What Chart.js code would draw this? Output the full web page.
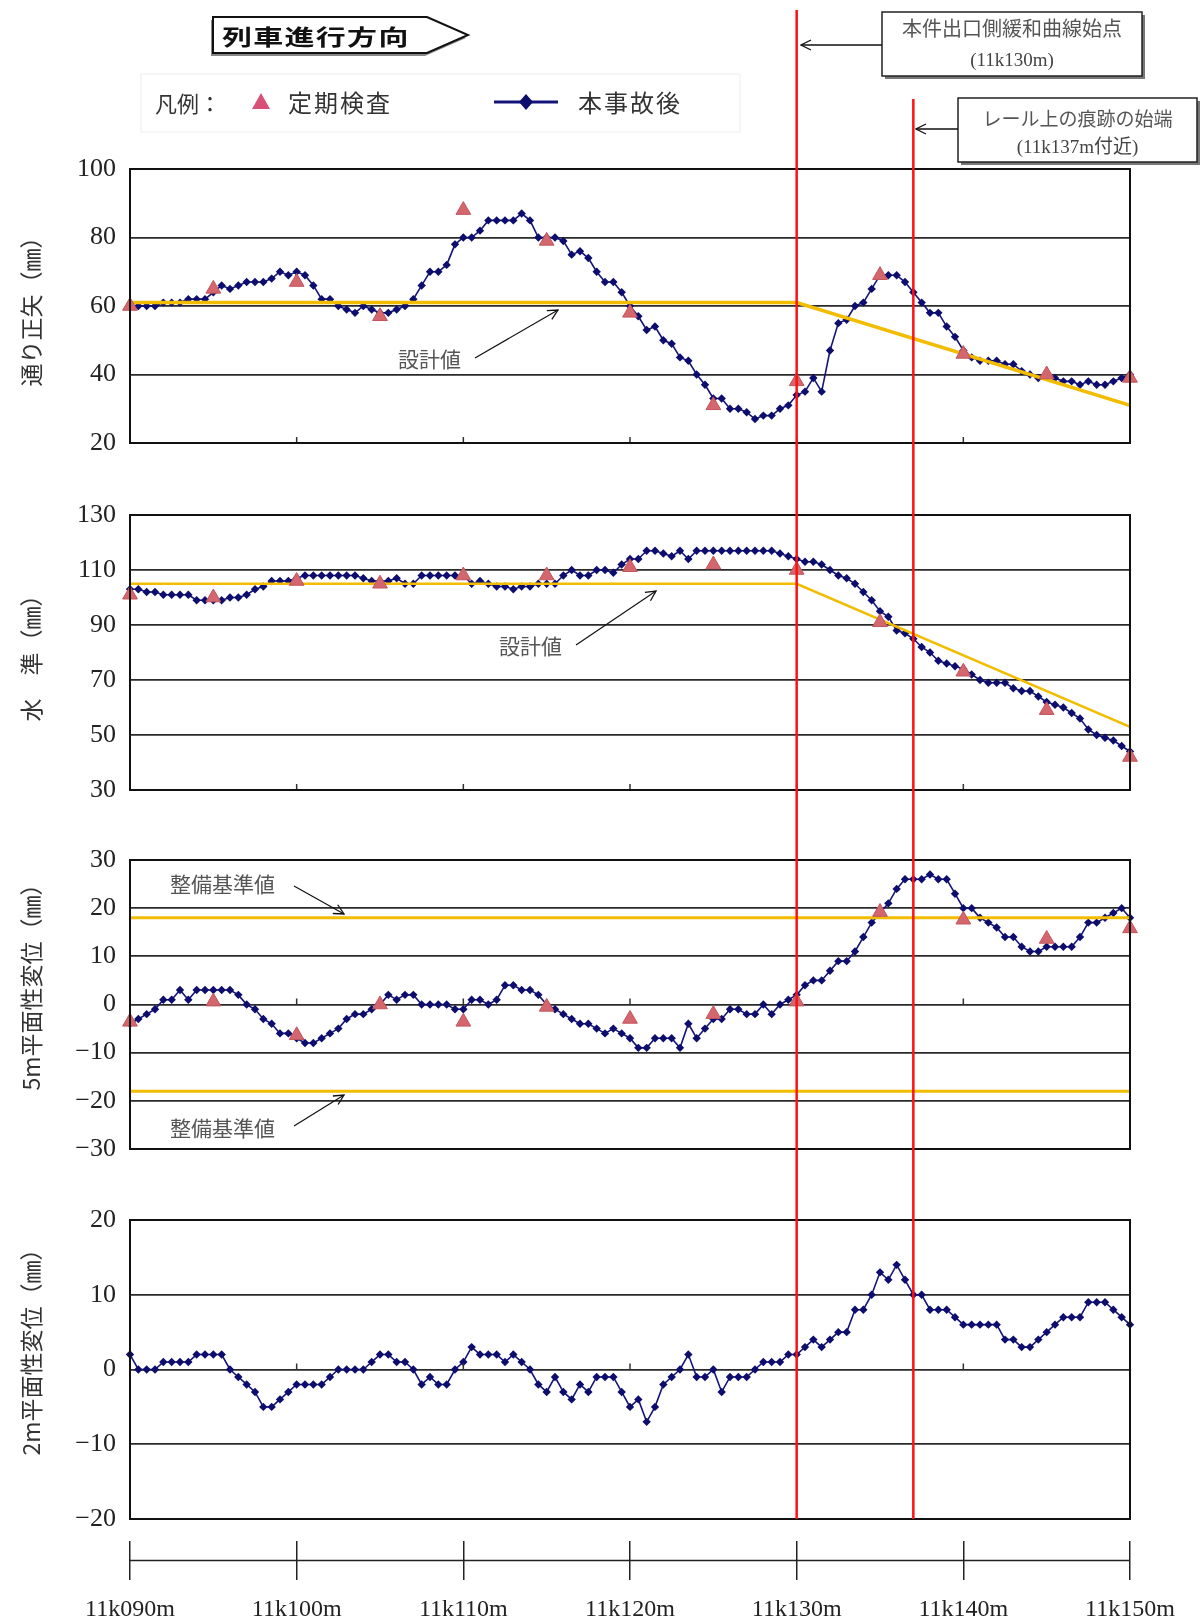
<!DOCTYPE html>
<html>
<head>
<meta charset="utf-8">
<script src="https://cdn.jsdelivr.net/npm/chart.js@4.4.0/dist/chart.umd.min.js"></script>
<style>
body { margin:0; background:#fff; width:1203px; height:1619px; position:relative; overflow:hidden;
       font-family:"Noto Sans CJK JP", sans-serif; }
canvas.cv { position:absolute; left:0; }
.t { position:absolute; white-space:nowrap; color:#444; line-height:1; }
#overlay, #shapes { position:absolute; left:0; top:0; pointer-events:none; }
</style>
</head>
<body>

<canvas class="cv" id="c1" width="1203" height="342" style="top:135px"></canvas>
<canvas class="cv" id="c2" width="1203" height="343" style="top:481px"></canvas>
<canvas class="cv" id="c3" width="1203" height="357" style="top:826px"></canvas>
<canvas class="cv" id="c4" width="1203" height="367" style="top:1186px"></canvas>
<canvas class="cv" id="c5" width="1203" height="90" style="top:1530px"></canvas>
<canvas id="overlay" width="1203" height="1619"></canvas>

<svg id="shapes" width="1203" height="1619">
  <defs>
    <marker id="ahEnd" markerWidth="12" markerHeight="12" refX="11" refY="6" orient="auto" markerUnits="userSpaceOnUse">
      <path d="M1,1 L11,6 L1,11" fill="none" stroke="#111" stroke-width="1.3"/>
    </marker>
  </defs>
  <!-- direction arrow -->
  <polygon points="211,20 425,20 466,38 425,56 211,56" fill="#888"/>
  <polygon points="213,17 427,17 468,35 427,53 213,53" fill="#fff" stroke="#111" stroke-width="2"/>
  <!-- legend frame -->
  <rect x="141" y="74" width="599" height="58" fill="none" stroke="#eee" stroke-width="1"/>
  <polygon points="261,93 252,109 270,109" fill="#d94f78"/>
  <line x1="494" y1="102" x2="558" y2="102" stroke="#14147a" stroke-width="3"/>
  <polygon points="526,94 533,102 526,110 519,102" fill="#0d0d6e"/>
  <!-- note boxes -->
  <rect x="885" y="15" width="260" height="64" fill="#777"/>
  <rect x="882" y="12" width="260" height="64" fill="#fff" stroke="#222" stroke-width="1.5"/>
  <rect x="961" y="101" width="239" height="64" fill="#777"/>
  <rect x="958" y="98" width="239" height="64" fill="#fff" stroke="#222" stroke-width="1.5"/>
  <line x1="882" y1="45" x2="801" y2="45" stroke="#111" stroke-width="1.5" marker-end="url(#ahEnd)"/>
  <line x1="958" y1="129" x2="916" y2="129" stroke="#111" stroke-width="1.5" marker-end="url(#ahEnd)"/>
  <!-- pointer arrows inside the panels -->
  <line x1="475" y1="358" x2="558" y2="310" stroke="#111" stroke-width="1.2" marker-end="url(#ahEnd)"/>
  <line x1="576" y1="645" x2="656" y2="591" stroke="#111" stroke-width="1.2" marker-end="url(#ahEnd)"/>
  <line x1="294" y1="886" x2="344" y2="914" stroke="#111" stroke-width="1.2" marker-end="url(#ahEnd)"/>
  <line x1="294" y1="1126" x2="344" y2="1095" stroke="#111" stroke-width="1.2" marker-end="url(#ahEnd)"/>
</svg>

<div class="t" style="left:222px;top:24px;font-size:22px;font-weight:bold;letter-spacing:1px;color:#111;transform:scaleX(1.36);transform-origin:left center">列車進行方向</div>
<div class="t" style="left:155px;top:91px;font-size:22px;color:#333">凡例：</div>
<div class="t" style="left:288px;top:90px;font-size:24px;letter-spacing:2px;color:#333">定期検査</div>
<div class="t" style="left:578px;top:90px;font-size:24px;letter-spacing:2px;color:#333">本事故後</div>

<div class="t" style="left:882px;top:18px;width:260px;text-align:center;font-size:20px;color:#555">本件出口側緩和曲線始点</div>
<div class="t" style="left:882px;top:50px;width:260px;text-align:center;font-size:19px;color:#444;font-family:'Liberation Serif',serif">(11k130m)</div>
<div class="t" style="left:958px;top:108px;width:239px;text-align:center;font-size:19px;color:#555">レール上の痕跡の始端</div>
<div class="t" style="left:958px;top:137px;width:239px;text-align:center;font-size:19px;color:#444;font-family:'Liberation Serif','Noto Sans CJK JP',serif">(11k137m付近)</div>

<div class="t" style="left:398px;top:348px;font-size:21px;color:#555">設計値</div>
<div class="t" style="left:499px;top:635px;font-size:21px;color:#555">設計値</div>
<div class="t" style="left:170px;top:873px;font-size:21px;color:#555">整備基準値</div>
<div class="t" style="left:170px;top:1117px;font-size:21px;color:#555">整備基準値</div>

<script>
// measurement grid: 11k090m .. 11k150m every 0.5 m
const startM = 11090;
const stepM = 0.5;
const positions = Array.from({length: 121}, (_, i) => startM + i * stepM);

// 本事故後 (after the accident)
const alignAfter = [
  60,60,60,60,61,61,61,62,62,62,
  64,66,65,66,67,67,67,68,70,69,
  70,69,66,62,62,60,59,58,60,59,
  58,58,59,60,62,66,70,70,72,78,
  80,80,82,85,85,85,85,87,85,80,
  80,80,79,75,76,74,70,67,67,64,
  60,57,53,54,50,49,45,44,40,37,
  33,33,30,30,29,27,28,28,30,31,
  34,35,39,35,47,55,56,60,61,65,
  69,69,69,67,64,61,58,58,54,51,
  47,45,44,44,44,43,43,41,40,39,
  40,39,38,38,37,38,37,37,38,39,
  40];
const cantAfter = [
  103,103,102,102,101,101,101,101,99,99,
  99,99,100,100,101,103,104,106,106,106,
  107,108,108,108,108,108,108,108,107,106,
  106,106,107,105,105,108,108,108,108,108,
  108,105,106,105,104,104,103,104,104,105,
  105,105,108,110,108,108,
  110,110,109,112,114,114,117,117,116,115,
  117,114,117,117,117,117,117,117,117,117,
  117,117,116,115,114,113,113,112,110,108,
  107,105,102,99,95,93,88,87,85,82,
  80,77,76,75,74,72,70,69,69,69,
  67,66,66,64,62,61,60,58,56,52,
  50,49,48,46,44];
const twist5After = [
  -4,-3,-2,-1,1,1,3,1,3,3,
  3,3,3,2,0,-1,-3,-4,-6,-6,
  -7,-8,-8,-7,-6,-5,-3,-2,-2,-1,
  0,2,1,2,2,0,0,0,0,-1,
  -1,1,1,0,1,4,4,3,3,2,
  0,-1,-2,-3,-4,-4,
  -5,-6,-5,-6,-7,-9,-9,-7,-7,-7,
  -9,-4,-7,-5,-3,-3,-1,-1,-2,-2,
  0,-2,0,1,2,4,5,5,7,9,
  9,11,14,17,19,21,24,26,26,26,
  27,26,26,23,20,20,18,17,16,14,
  14,12,11,11,12,12,12,12,14,17,
  17,18,19,20,18];
const twist2After = [
  2,0,0,0,1,1,1,1,2,2,
  2,2,0,-1,-2,-3,-5,-5,-4,-3,
  -2,-2,-2,-2,-1,0,0,0,0,1,
  2,2,1,1,0,-2,-1,-2,-2,0,
  1,3,2,2,2,1,2,1,0,-2,
  -3,-1,-3,-4,-2,-3,-1,
  -1,-1,-3,-5,-4,-7,-5,-2,-1,0,
  2,-1,-1,0,-3,-1,-1,-1,0,1,
  1,1,2,2,3,4,3,4,5,5,
  8,8,10,13,12,14,12,10,10,8,
  8,8,7,6,6,6,6,6,4,4,
  3,3,4,5,6,7,7,7,9,9,
  9,8,7,6];

// 定期検査 (periodic inspection), every 5 m
const inspPositions = [11090,11095,11100,11105,11110,11115,11120,11125,11130,11135,11140,11145,11150];
const alignInsp  = [60,65,67,57,88,79,58,31,38,69,46,40,39];
const cantInsp   = [101,100,106,105,108,108,111,112,110,91,73,59,42];
const twist5Insp = [-3.6,0.6,-6.4,0,-3.6,-0.5,-3,-2,0.6,19.2,17.6,13.6,15.8];

// 設計値 / 整備基準値
const designPositions = [11090, 11130, 11150];
const alignDesign = [61, 61, 31];
const cantDesign  = [105, 105, 53];
const limitPositions = [11090, 11150];
const twistUpper = [18, 18];
const twistLower = [-18, -18];

// axes
const xTickLabels = ['11k090m','11k100m','11k110m','11k120m','11k130m','11k140m','11k150m'];
const innerTicks = [11100, 11110, 11120, 11130, 11140];
const markerPositions = [11130, 11137];

const NAVY = '#14147a';
const PINK = '#d4676e';
const GOLD = '#f2bd00';

function pts(xs, ys) { return xs.map((x, i) => ({x: x, y: ys[i]})); }

function afterSet(values) {
  return { data: pts(positions, values), borderColor: NAVY, borderWidth: 1.6, backgroundColor: '#0d0d6e',
           pointStyle: 'rectRot', pointRadius: 4.2, pointBorderWidth: 0, tension: 0, order: 3, clip: false };
}
function inspSet(values) {
  return { data: pts(inspPositions, values), showLine: false, pointStyle: 'triangle', pointRadius: 8.5,
           backgroundColor: PINK, borderColor: '#c2545c', pointBorderWidth: 1, order: 1, clip: false };
}
function lineSet(xs, ys, w) {
  return { data: pts(xs, ys), borderColor: GOLD, borderWidth: w, pointRadius: 0, tension: 0, order: 2 };
}

const fmtTick = v => v < 0 ? '−' + Math.abs(v) : String(v);

const panelPlugin = {
  id: 'panelFrame',
  afterDatasetsDraw(chart) {
    const {ctx, chartArea: a, scales} = chart;
    const at = chart.options.plugins.panelFrame.at;
    ctx.save();
    ctx.strokeStyle = '#333';
    ctx.lineWidth = 1.5;
    const y = scales.y.getPixelForValue(at);
    innerTicks.forEach(v => {
      const x = scales.x.getPixelForValue(v);
      ctx.beginPath(); ctx.moveTo(x, y); ctx.lineTo(x, y - 6); ctx.stroke();
    });
    ctx.strokeStyle = '#111';
    ctx.lineWidth = 2;
    ctx.strokeRect(a.left, a.top, a.right - a.left, a.bottom - a.top);
    ctx.restore();
  }
};

function panelOptions(yMin, yMax, yStep, title, axisAt) {
  return {
    responsive: false, animation: false,
    layout: { padding: { top: 34, bottom: 34, left: 0, right: 73 } },
    plugins: { legend: { display: false }, tooltip: { enabled: false }, panelFrame: { at: axisAt } },
    scales: {
      x: { type: 'linear', min: 11090, max: 11150, display: false },
      y: {
        min: yMin, max: yMax,
        ticks: { stepSize: yStep, padding: 14, color: '#222', callback: fmtTick,
                 font: { family: 'Liberation Serif', size: 26 } },
        grid: { color: '#2a2a2a', lineWidth: 1.8, drawTicks: false },
        border: { display: false },
        title: { display: true, text: title, color: '#333', padding: { top: 17, bottom: 0 },
                 font: { family: 'Noto Sans CJK JP', size: 23 } },
        afterFit: s => { s.width = 130; }
      }
    }
  };
}

const charts = [];
charts.push(new Chart(document.getElementById('c1'), {
  type: 'line',
  data: { datasets: [inspSet(alignInsp), lineSet(designPositions, alignDesign, 3.5), afterSet(alignAfter)] },
  options: panelOptions(20, 100, 20, '通り正矢（㎜）', 20),
  plugins: [panelPlugin]
}));
charts.push(new Chart(document.getElementById('c2'), {
  type: 'line',
  data: { datasets: [inspSet(cantInsp), lineSet(designPositions, cantDesign, 2.5), afterSet(cantAfter)] },
  options: panelOptions(30, 130, 20, '水　準（㎜）', 30),
  plugins: [panelPlugin]
}));
charts.push(new Chart(document.getElementById('c3'), {
  type: 'line',
  data: { datasets: [inspSet(twist5Insp), lineSet(limitPositions, twistUpper, 3), lineSet(limitPositions, twistLower, 3), afterSet(twist5After)] },
  options: panelOptions(-30, 30, 10, '　　5m平面性変位（㎜）', 0),
  plugins: [panelPlugin]
}));
charts.push(new Chart(document.getElementById('c4'), {
  type: 'line',
  data: { datasets: [afterSet(twist2After)] },
  options: panelOptions(-20, 20, 10, '　　2m平面性変位（㎜）', 0),
  plugins: [panelPlugin]
}));

// distance ruler at the bottom
new Chart(document.getElementById('c5'), {
  type: 'line',
  data: { datasets: [{ data: pts([11090, 11150], [0.5, 0.5]), borderColor: '#222', borderWidth: 1.5, pointRadius: 0 }] },
  options: {
    responsive: false, animation: false,
    layout: { padding: { top: 11, bottom: 1, left: 130, right: 73 } },
    plugins: { legend: { display: false }, tooltip: { enabled: false } },
    scales: {
      x: { type: 'linear', min: 11090, max: 11150,
           ticks: { stepSize: 10, padding: 15, color: '#222', font: { family: 'Liberation Serif', size: 24 },
                    callback: (v, i) => xTickLabels[i] },
           grid: { color: '#222', lineWidth: 1.5, drawTicks: false },
           border: { display: false } },
      y: { min: 0, max: 1, display: false }
    }
  }
});

// red marker lines across all panels
const ov = document.getElementById('overlay').getContext('2d');
const last = charts[3];
const bottomY = last.canvas.offsetTop + last.chartArea.bottom;
const topY = [10, 99];
ov.strokeStyle = '#ff1010';
ov.lineWidth = 2.5;
markerPositions.forEach((m, k) => {
  const x = charts[0].canvas.offsetLeft + charts[0].scales.x.getPixelForValue(m);
  ov.beginPath(); ov.moveTo(x, topY[k]); ov.lineTo(x, bottomY); ov.stroke();
});
</script>
</body>
</html>
